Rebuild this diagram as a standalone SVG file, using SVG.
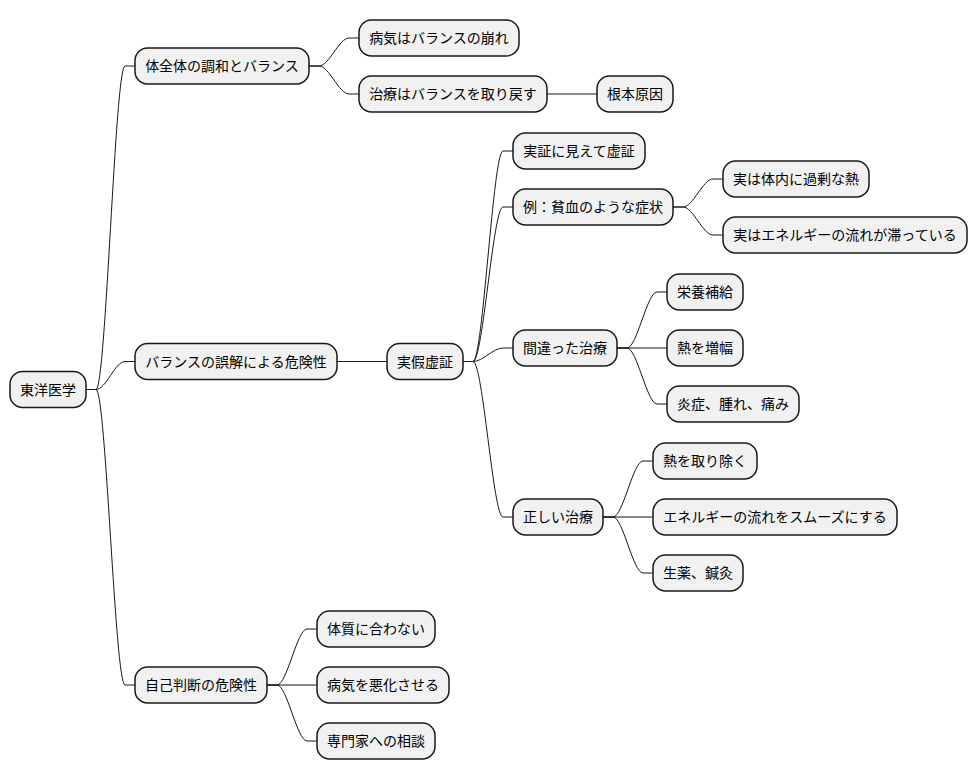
<svg xmlns="http://www.w3.org/2000/svg" width="978" height="781" viewBox="0 0 978 781">
<style>
.n rect{fill:#F1F1F1;stroke:#181818;stroke-width:1.5}
.n text{font-family:"Noto Sans CJK JP","Noto Sans",sans-serif;font-size:14px;fill:#000;text-anchor:middle}
#edges path{fill:none;stroke:#181818;stroke-width:1}
</style>
<rect width="978" height="781" fill="#FFFFFF"/>
<g id="edges">
<path d="M86 389.5 L96 389.5 C106 389.5 115 66 125 66 L135 66"/>
<path d="M86 389.5 L96 389.5 C106 389.5 115 361.5 125 361.5 L135 361.5"/>
<path d="M86 389.5 L96 389.5 C106 389.5 115 685 125 685 L135 685"/>
<path d="M309 66 L319 66 C329 66 339 38 349 38 L359 38"/>
<path d="M309 66 L319 66 C329 66 339 94 349 94 L359 94"/>
<path d="M547 94 L597 94"/>
<path d="M337 361.5 L387 361.5"/>
<path d="M463 361.5 L473 361.5 C483 361.5 493 151 503 151 L513 151"/>
<path d="M463 361.5 L473 361.5 C483 361.5 493 207 503 207 L513 207"/>
<path d="M463 361.5 L473 361.5 C483 361.5 493 348 503 348 L513 348"/>
<path d="M463 361.5 L473 361.5 C483 361.5 493 517 503 517 L513 517"/>
<path d="M673 207 L683 207 C693 207 703 179 713 179 L723 179"/>
<path d="M673 207 L683 207 C693 207 703 235 713 235 L723 235"/>
<path d="M617 348 L627 348 C637 348 647 292 657 292 L667 292"/>
<path d="M617 348 L667 348"/>
<path d="M617 348 L627 348 C637 348 647 404 657 404 L667 404"/>
<path d="M603 517 L613 517 C623 517 633 461 643 461 L653 461"/>
<path d="M603 517 L653 517"/>
<path d="M603 517 L613 517 C623 517 633 573 643 573 L653 573"/>
<path d="M267 685 L277 685 C287 685 297 629 307 629 L317 629"/>
<path d="M267 685 L317 685"/>
<path d="M267 685 L277 685 C287 685 297 741 307 741 L317 741"/>
</g>
<g id="root" class="n"><rect x="10" y="371.5" width="76" height="36" rx="12.5"/><text x="48" y="394.5">東洋医学</text></g>
<g id="a" class="n"><rect x="135" y="48" width="174" height="36" rx="12.5"/><text x="222" y="71">体全体の調和とバランス</text></g>
<g id="a1" class="n"><rect x="359" y="20" width="160" height="36" rx="12.5"/><text x="439" y="43">病気はバランスの崩れ</text></g>
<g id="a2" class="n"><rect x="359" y="76" width="188" height="36" rx="12.5"/><text x="453" y="99">治療はバランスを取り戻す</text></g>
<g id="a21" class="n"><rect x="597" y="76" width="76" height="36" rx="12.5"/><text x="635" y="99">根本原因</text></g>
<g id="b" class="n"><rect x="135" y="343.5" width="202" height="36" rx="12.5"/><text x="236" y="366.5">バランスの誤解による危険性</text></g>
<g id="b1" class="n"><rect x="387" y="343.5" width="76" height="36" rx="12.5"/><text x="425" y="366.5">実假虚証</text></g>
<g id="b11" class="n"><rect x="513" y="133" width="132" height="36" rx="12.5"/><text x="579" y="156">実証に見えて虚証</text></g>
<g id="b12" class="n"><rect x="513" y="189" width="160" height="36" rx="12.5"/><text x="593" y="212">例：貧血のような症状</text></g>
<g id="b121" class="n"><rect x="723" y="161" width="146" height="36" rx="12.5"/><text x="796" y="184">実は体内に過剰な熱</text></g>
<g id="b122" class="n"><rect x="723" y="217" width="244" height="36" rx="12.5"/><text x="845" y="240">実はエネルギーの流れが滞っている</text></g>
<g id="b13" class="n"><rect x="513" y="330" width="104" height="36" rx="12.5"/><text x="565" y="353">間違った治療</text></g>
<g id="b131" class="n"><rect x="667" y="274" width="76" height="36" rx="12.5"/><text x="705" y="297">栄養補給</text></g>
<g id="b132" class="n"><rect x="667" y="330" width="76" height="36" rx="12.5"/><text x="705" y="353">熱を増幅</text></g>
<g id="b133" class="n"><rect x="667" y="386" width="132" height="36" rx="12.5"/><text x="733" y="409">炎症、腫れ、痛み</text></g>
<g id="b14" class="n"><rect x="513" y="499" width="90" height="36" rx="12.5"/><text x="558" y="522">正しい治療</text></g>
<g id="b141" class="n"><rect x="653" y="443" width="104" height="36" rx="12.5"/><text x="705" y="466">熱を取り除く</text></g>
<g id="b142" class="n"><rect x="653" y="499" width="244" height="36" rx="12.5"/><text x="775" y="522">エネルギーの流れをスムーズにする</text></g>
<g id="b143" class="n"><rect x="653" y="555" width="90" height="36" rx="12.5"/><text x="698" y="578">生薬、鍼灸</text></g>
<g id="c" class="n"><rect x="135" y="667" width="132" height="36" rx="12.5"/><text x="201" y="690">自己判断の危険性</text></g>
<g id="c1" class="n"><rect x="317" y="611" width="118" height="36" rx="12.5"/><text x="376" y="634">体質に合わない</text></g>
<g id="c2" class="n"><rect x="317" y="667" width="132" height="36" rx="12.5"/><text x="383" y="690">病気を悪化させる</text></g>
<g id="c3" class="n"><rect x="317" y="723" width="118" height="36" rx="12.5"/><text x="376" y="746">専門家への相談</text></g>
</svg>
